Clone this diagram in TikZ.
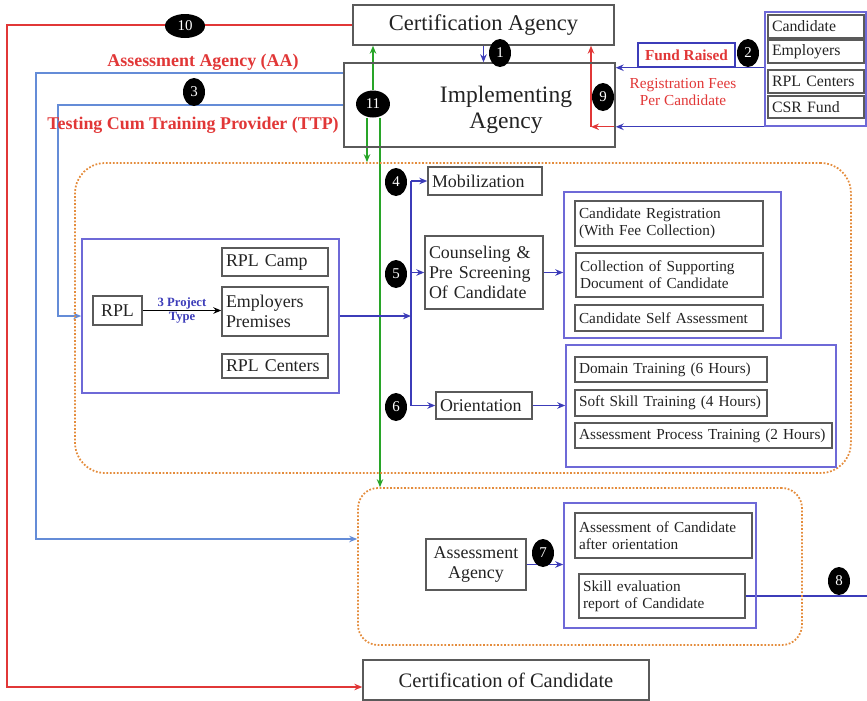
\documentclass[tikz,border=0pt]{standalone}
\usepackage{fontspec}
\setmainfont{Liberation Serif}
\usetikzlibrary{arrows.meta,positioning,shapes.geometric,calc,backgrounds}
\definecolor{flowblue}{RGB}{60,60,185}
\definecolor{skyline}{RGB}{100,140,215}
\definecolor{grpblue}{RGB}{110,105,215}
\definecolor{fire}{RGB}{225,55,55}
\definecolor{leafgreen}{RGB}{40,165,40}
\definecolor{peach}{RGB}{228,140,60}
\definecolor{boxgray}{RGB}{90,90,90}
\definecolor{ink}{RGB}{35,35,35}
\tikzset{
  >={Stealth[length=1.6mm,width=1.3mm]},
  box/.style={draw=boxgray,thick,text=ink,inner xsep=0.08cm,inner ysep=0.05cm,
    font=\fontsize{10.2}{11.5}\selectfont},
  lbox/.style={box,align=left,text width=#1},
  small/.style={font=\fontsize{8.7}{9.8}\selectfont},
  srcfont/.style={font=\fontsize{9}{10}\selectfont},
  grp/.style={draw=grpblue,line width=0.9pt},
  zone/.style={draw=peach,densely dotted,line width=1pt},
  num/.style={ellipse,fill=black,text=white,inner sep=0pt,font=\fontsize{8.5}{9}\selectfont,
    minimum width=0.44cm,minimum height=0.56cm},
  flow/.style={->,draw=flowblue,line width=0.8pt},
  feed/.style={draw=fire,line width=0.8pt},
  link/.style={->,draw=leafgreen,line width=0.8pt},
  tag/.style={text=fire,font=\fontsize{10.2}{11.5}\selectfont\bfseries},
}
\begin{document}
\begin{tikzpicture}[x=0.02cm,y=-0.02cm]
  \useasboundingbox (0,0) rectangle (867,701);
  % dotted zones
  \node[zone,rounded corners=0.6cm,minimum width=15.52cm,minimum height=6.2cm] (prep) at (463,318) {};
  \node[zone,rounded corners=0.4cm,minimum width=8.88cm,minimum height=3.14cm] (assess) at (580,566.5) {};
  % agencies
  \node[box,font=\fontsize{12.8}{14}\selectfont,minimum width=5.22cm,minimum height=0.8cm] (cert) at (483.5,25) {Certification Agency};
  \node[box,minimum width=5.42cm,minimum height=1.68cm] (impl) at (479.5,105) {};
  \node[align=center,text=ink,font=\fontsize{13.4}{14.8}\selectfont] (impltxt) at (506,110) {Implementing\\Agency};
  \node[box,font=\fontsize{11.7}{13}\selectfont,minimum width=5.72cm,minimum height=0.8cm] (certc) at (506,680) {Certification of Candidate};
  % fund sources
  \node[grp,minimum width=2.02cm,minimum height=2.28cm] (src) at (815.5,69) {};
  \node[lbox=1.76cm,srcfont,minimum height=0.46cm] (scand) at (816,26.5) {Candidate};
  \node[lbox=1.76cm,srcfont,minimum height=0.46cm] (semp) at (816,51.5) {Employers};
  \node[lbox=1.76cm,srcfont,minimum height=0.46cm] (srpl) at (816,81.5) {RPL Centers};
  \node[lbox=1.76cm,srcfont,minimum height=0.44cm] (scsr) at (816,107) {CSR Fund};
  \node[draw=flowblue,thick,text=fire,font=\fontsize{8.7}{9.6}\selectfont\bfseries,minimum width=1.94cm,minimum height=0.48cm,inner sep=0pt] (fund) at (686.5,55) {Fund Raised};
  \node[text=fire,align=center,font=\fontsize{8.7}{9.6}\selectfont] (regfee) at (683,92) {Registration Fees\\Per Candidate};
  % side labels
  \node[tag] (aatag) at (203,62) {Assessment Agency (AA)};
  \node[tag] (ttptag) at (193,125) {Testing Cum Training Provider (TTP)};
  % RPL
  \node[grp,minimum width=5.14cm,minimum height=3.08cm] (rplgrp) at (210.5,316) {};
  \node[box,minimum width=0.98cm,minimum height=0.58cm] (rpl) at (117.5,310.5) {RPL};
  \node[lbox=1.96cm,minimum height=0.56cm] (camp) at (275,262) {RPL Camp};
  \node[lbox=1.96cm,minimum height=0.98cm] (emp) at (275,311.5) {Employers\\Premises};
  \node[lbox=1.96cm,minimum height=0.48cm] (rplc) at (275,366) {RPL Centers};
  % steps
  \node[lbox=2.12cm,minimum height=0.56cm] (mob) at (485,181) {Mobilization};
  \node[lbox=2.2cm,minimum height=1.46cm] (coun) at (484,272.5) {Counseling \&\\Pre Screening\\Of Candidate};
  \node[lbox=1.76cm,minimum height=0.54cm] (orient) at (484,405.5) {Orientation};
  \node[grp,minimum width=4.34cm,minimum height=2.92cm] (grpreg) at (672.5,265) {};
  \node[lbox=3.6cm,small,minimum height=0.9cm] (reg) at (669,223.5) {Candidate Registration\\(With Fee Collection)};
  \node[lbox=3.58cm,small,minimum height=0.88cm] (coll) at (669.5,275) {Collection of Supporting\\Document of Candidate};
  \node[lbox=3.6cm,small,minimum height=0.52cm] (self) at (669,318) {Candidate Self Assessment};
  \node[grp,minimum width=5.4cm,minimum height=2.44cm] (grptrain) at (701,406) {};
  \node[lbox=3.68cm,small,minimum height=0.5cm] (dom) at (671,369.5) {Domain Training (6 Hours)};
  \node[lbox=3.68cm,small,minimum height=0.52cm] (soft) at (671,403) {Soft Skill Training (4~Hours)};
  \node[lbox=4.98cm,small,minimum height=0.5cm] (proc) at (703.5,435.5) {Assessment Process Training (2~Hours)};
  % assessment
  \node[box,align=center,minimum width=2cm,minimum height=1.02cm] (aa) at (476,564.5) {Assessment\\Agency};
  \node[grp,minimum width=3.84cm,minimum height=2.5cm] (grpeval) at (660,565.5) {};
  \node[lbox=3.38cm,small,minimum height=0.9cm] (acand) at (663.5,535.5) {Assessment of Candidate\\after orientation};
  \node[lbox=3.16cm,small,minimum height=0.88cm] (skill) at (662,596) {Skill evaluation\\report of Candidate};
  % step numbers
  \node[num] (n1) at (500,53) {1};
  \node[num] (n2) at (748,53) {2};
  \node[num] (n3) at (194,92) {3};
  \node[num] (n4) at (396,182) {4};
  \node[num] (n5) at (396,274) {5};
  \node[num] (n6) at (396,407) {6};
  \node[num] (n7) at (543,553) {7};
  \node[num] (n8) at (839,581) {8};
  \node[num] (n9) at (603,97) {9};
  \node[num,minimum width=0.8cm,minimum height=0.48cm] (n10) at (185,26) {10};
  \node[num,minimum width=0.68cm,minimum height=0.54cm] (n11) at (373,104) {11};
  % helper points
  \coordinate (redx) at (7,400);
  \coordinate (aax) at (36,300);
  \coordinate (ttpx) at (58,200);
  \coordinate (busx) at (411,0);
  \coordinate (r9) at (591,0);
  \coordinate (exit8) at (867,0);
  % flows
  \begin{scope}[on background layer]
  \draw[flow] (cert.south) -- (cert.south |- impl.north);
  \draw[flow] (src.west |- fund.south) -- (impl.east |- fund.south);
  \draw[flow] (src.south west) -- (impl.east |- src.south west);
  \draw[feed,->] (impl.east |- src.south west) -- (r9 |- src.south west);
  \draw[feed,->] (r9 |- src.south west) -- (r9 |- cert.south);
  \draw[feed,->] (cert.west) -| (redx) |- ([yshift=-0.14cm]certc.west);
  \draw[flow,draw=skyline] ([yshift=0.64cm]impl.west) -| (aax) |- ([yshift=0.55cm]assess.west);
  \draw[flow,draw=skyline] (impl.west) -| (ttpx) |- (rplgrp.west);
  \draw[link] (n11.north) -- (n11.north |- cert.south);
  \draw[link] ([xshift=-0.12cm]n11.south) -- ([xshift=-0.12cm]n11.south |- prep.north);
  \draw[link] ([xshift=0.14cm]n11.south) -- ([xshift=0.14cm]n11.south |- assess.north);
  \draw[->,thick] (rpl.east) -- node[align=center,text=flowblue,font=\fontsize{7.2}{8}\selectfont\bfseries] (ptype) {3 Project\\Type} (rpl.east -| emp.west);
  \draw[flow] (rplgrp.east) -- (busx |- rplgrp.east);
  \draw[draw=flowblue,line width=0.8pt] (busx |- mob.west) -- (busx |- orient.west);
  \draw[flow] (busx |- mob.west) -- (mob.west);
  \draw[flow] (busx |- coun.west) -- (coun.west);
  \draw[flow] (busx |- orient.west) -- (orient.west);
  \draw[flow] (coun.east) -- (coun.east -| grpreg.west);
  \draw[flow] (orient.east) -- (orient.east -| grptrain.west);
  \draw[flow] (aa.east) -- (aa.east -| grpeval.west);
  \draw[draw=flowblue,line width=0.8pt] (skill.east) -- (skill.east -| exit8);
  \end{scope}
\end{tikzpicture}
\end{document}
